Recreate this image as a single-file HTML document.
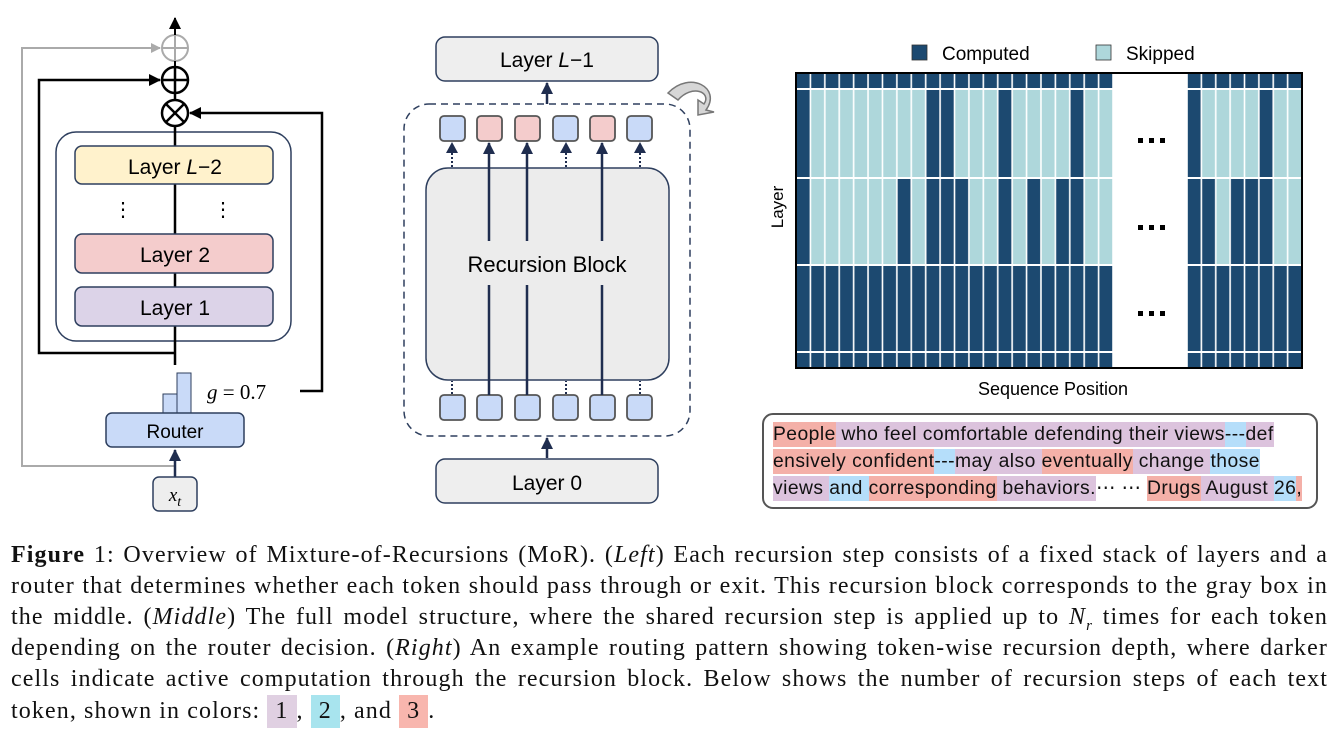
<!DOCTYPE html>
<html><head><meta charset="utf-8">
<style>
html,body{margin:0;padding:0;background:#fff;}
body{width:1338px;height:735px;position:relative;overflow:hidden;}
svg{position:absolute;left:0;top:0;}
.tb{position:absolute;left:773px;font-family:"Liberation Sans",sans-serif;font-size:19.3px;letter-spacing:0.45px;white-space:pre;color:#111;line-height:26px;}
.tb span{padding:2px 0;}
.p{background:#f4b0a8}.u{background:#dcc3dd}.b{background:#b5defa}
.cap{position:absolute;left:11px;width:1317px;font-family:"Liberation Serif",serif;font-size:24px;letter-spacing:1.1px;color:#111;white-space:nowrap;text-align:justify;text-align-last:justify;line-height:31px;}
.cap.l{text-align-last:left;}
.k{display:inline-block;padding:0 8px;line-height:33px;}
</style></head><body>
<svg width="1338" height="735" viewBox="0 0 1338 735" font-family="Liberation Sans, sans-serif">
<defs>
<marker id="ag" markerWidth="10" markerHeight="10" refX="9" refY="5" orient="auto" markerUnits="userSpaceOnUse"><path d="M0,0 L10,5 L0,10z" fill="#aaa"/></marker>
<marker id="an" markerWidth="12" markerHeight="12" refX="11" refY="6" orient="auto" markerUnits="userSpaceOnUse"><path d="M0,0 L12,6 L0,12z" fill="#1f2d4f"/></marker>
<marker id="ak" markerWidth="12" markerHeight="12" refX="11" refY="6" orient="auto" markerUnits="userSpaceOnUse"><path d="M0,0 L12,6 L0,12z" fill="#000"/></marker>
<pattern id="vl" patternUnits="userSpaceOnUse" x="796" y="0" width="14.41" height="10"><rect x="-0.8" y="0" width="1.6" height="10" fill="#fff"/><rect x="13.61" y="0" width="1.6" height="10" fill="#fff"/></pattern>
<pattern id="vr" patternUnits="userSpaceOnUse" x="1187" y="0" width="14.375" height="10"><rect x="-0.8" y="0" width="1.6" height="10" fill="#fff"/><rect x="13.575" y="0" width="1.6" height="10" fill="#fff"/></pattern>
</defs>

<!-- LEFT -->
<polyline points="175,466 22,466 22,48 160,48" fill="none" stroke="#aaa" stroke-width="2" marker-end="url(#ag)"/>
<circle cx="175" cy="48" r="13" fill="none" stroke="#aaa" stroke-width="2"/>
<line x1="162" y1="48" x2="188" y2="48" stroke="#aaa" stroke-width="2"/><line x1="175" y1="35" x2="175" y2="61" stroke="#aaa" stroke-width="2"/>
<line x1="175" y1="35" x2="175" y2="18" stroke="#000" stroke-width="2" marker-end="url(#ak)"/>
<line x1="175" y1="61" x2="175" y2="67" stroke="#000" stroke-width="2"/>
<polyline points="175,353 39,353 39,80 160,80" fill="none" stroke="#000" stroke-width="2.5" marker-end="url(#ak)"/>
<circle cx="175" cy="80" r="13" fill="#fff" stroke="#000" stroke-width="2.5"/>
<line x1="162" y1="80" x2="188" y2="80" stroke="#000" stroke-width="2.5"/><line x1="175" y1="67" x2="175" y2="93" stroke="#000" stroke-width="2.5"/>
<line x1="175" y1="93" x2="175" y2="100" stroke="#000" stroke-width="2.5"/>
<polyline points="300,391 322,391 322,113 190,113" fill="none" stroke="#000" stroke-width="2.5" marker-end="url(#ak)"/>
<circle cx="175" cy="113" r="13" fill="#fff" stroke="#000" stroke-width="2.5"/>
<line x1="166" y1="104" x2="184" y2="122" stroke="#000" stroke-width="2.5"/><line x1="184" y1="104" x2="166" y2="122" stroke="#000" stroke-width="2.5"/>
<rect x="56" y="132" width="235" height="209" rx="20" fill="#fff" stroke="#2e3f5e" stroke-width="1.5"/>
<line x1="175" y1="126" x2="175" y2="365" stroke="#000" stroke-width="2.5"/>
<rect x="75" y="146" width="198" height="38" rx="7" fill="#fff2cc" stroke="#2e3f5e" stroke-width="1.5"/>
<text x="175" y="174" font-size="21" text-anchor="middle">Layer <tspan font-style="italic">L</tspan>−2</text>
<text x="123" y="216" font-size="20" text-anchor="middle">⋮</text><text x="223" y="216" font-size="20" text-anchor="middle">⋮</text>
<rect x="75" y="234" width="198" height="39" rx="7" fill="#f4cccc" stroke="#2e3f5e" stroke-width="1.5"/>
<text x="175" y="262" font-size="21" text-anchor="middle">Layer 2</text>
<rect x="75" y="287" width="198" height="39" rx="7" fill="#dcd3e8" stroke="#2e3f5e" stroke-width="1.5"/>
<text x="175" y="315" font-size="21" text-anchor="middle">Layer 1</text>
<rect x="163" y="394" width="14" height="20" fill="#c9daf8" stroke="#2e3f5e" stroke-width="1"/>
<rect x="177" y="373" width="14" height="41" fill="#c9daf8" stroke="#2e3f5e" stroke-width="1"/>
<text x="207" y="399" font-size="21" font-family="Liberation Serif, serif"><tspan font-style="italic">g</tspan> = 0.7</text>
<rect x="106" y="413" width="138" height="34" rx="6" fill="#c9daf8" stroke="#2e3f5e" stroke-width="1.5"/>
<text x="175" y="438" font-size="19" text-anchor="middle">Router</text>
<line x1="175" y1="477" x2="175" y2="450" stroke="#1f2d4f" stroke-width="2.5" marker-end="url(#an)"/>
<rect x="153" y="477" width="44" height="34" rx="6" fill="#eee" stroke="#2e3f5e" stroke-width="1.5"/>
<text x="175" y="501" font-size="19" font-family="Liberation Serif, serif" font-style="italic" text-anchor="middle">x<tspan font-size="14" dy="5">t</tspan></text>

<!-- MIDDLE -->
<rect x="436" y="37" width="222" height="44" rx="9" fill="#eee" stroke="#2e3f5e" stroke-width="1.5"/>
<text x="547" y="67" font-size="21" text-anchor="middle">Layer <tspan font-style="italic">L</tspan>−1</text>
<line x1="547" y1="104" x2="547" y2="83" stroke="#1f2d4f" stroke-width="2.5" marker-end="url(#an)"/>
<rect x="404" y="104" width="286" height="332" rx="25" fill="none" stroke="#2e3f5e" stroke-width="1.5" stroke-dasharray="7,5"/>
<path d="M668,93 C690,70 722,88 706,110 L714,112 L698,115 L698,100 L704,104 C712,92 692,84 678,100 Z" fill="#d6d6d6" stroke="#777" stroke-width="1.5"/>
<rect x="426" y="168" width="243" height="212" rx="22" fill="#ececec" stroke="#2e3f5e" stroke-width="1.5"/>
<text x="547" y="272" font-size="22" text-anchor="middle">Recursion Block</text>
<g stroke="#555" stroke-width="1.8">
<rect x="440" y="116" width="25" height="25" rx="4" fill="#c9daf8"/>
<rect x="477" y="116" width="25" height="25" rx="4" fill="#f4cccc"/>
<rect x="515" y="116" width="25" height="25" rx="4" fill="#f4cccc"/>
<rect x="553" y="116" width="25" height="25" rx="4" fill="#c9daf8"/>
<rect x="590" y="116" width="25" height="25" rx="4" fill="#f4cccc"/>
<rect x="627" y="116" width="25" height="25" rx="4" fill="#c9daf8"/>
<rect x="440" y="395" width="25" height="25" rx="4" fill="#c9daf8"/>
<rect x="477" y="395" width="25" height="25" rx="4" fill="#c9daf8"/>
<rect x="515" y="395" width="25" height="25" rx="4" fill="#c9daf8"/>
<rect x="553" y="395" width="25" height="25" rx="4" fill="#c9daf8"/>
<rect x="590" y="395" width="25" height="25" rx="4" fill="#c9daf8"/>
<rect x="627" y="395" width="25" height="25" rx="4" fill="#c9daf8"/>
</g>
<g stroke="#1f2d4f" stroke-width="2.5">
<line x1="489" y1="241" x2="489" y2="143" marker-end="url(#an)"/><line x1="489" y1="395" x2="489" y2="285"/>
<line x1="527" y1="241" x2="527" y2="143" marker-end="url(#an)"/><line x1="527" y1="395" x2="527" y2="285"/>
<line x1="602" y1="241" x2="602" y2="143" marker-end="url(#an)"/><line x1="602" y1="395" x2="602" y2="285"/>
</g>
<g stroke="#1f2d4f" stroke-width="2" stroke-dasharray="2,2">
<line x1="452" y1="167" x2="452" y2="152"/><line x1="566" y1="167" x2="566" y2="152"/><line x1="640" y1="167" x2="640" y2="152"/>
<line x1="452" y1="394" x2="452" y2="381"/><line x1="566" y1="394" x2="566" y2="381"/><line x1="640" y1="394" x2="640" y2="381"/>
</g>
<g fill="#1f2d4f"><path d="M446,153 L458,153 L452,142z"/><path d="M560,153 L572,153 L566,142z"/><path d="M634,153 L646,153 L640,142z"/></g>
<line x1="547" y1="458" x2="547" y2="438" stroke="#1f2d4f" stroke-width="2.5" marker-end="url(#an)"/>
<rect x="436" y="459" width="222" height="44" rx="9" fill="#eee" stroke="#2e3f5e" stroke-width="1.5"/>
<text x="547" y="490" font-size="21" text-anchor="middle">Layer 0</text>

<!-- RIGHT -->
<rect x="912" y="45" width="15" height="15" fill="#1c4970" stroke="#333" stroke-width="0.8"/>
<text x="942" y="60" font-size="19">Computed</text>
<rect x="1096" y="45" width="15" height="15" fill="#aed7db" stroke="#333" stroke-width="0.8"/>
<text x="1126" y="60" font-size="19">Skipped</text>
<text transform="translate(783,207) rotate(-90)" font-size="17" text-anchor="middle">Layer</text>
<text x="1053" y="395" font-size="18" text-anchor="middle">Sequence Position</text>
<rect x="796" y="73" width="317" height="295" fill="#1c4970"/>
<rect x="1187" y="73" width="115" height="295" fill="#1c4970"/>
<g fill="#aed7db">
<rect x="810.4" y="89" width="115.3" height="89"/><rect x="954.5" y="89" width="43.2" height="89"/><rect x="1012.2" y="89" width="57.6" height="89"/><rect x="1084.2" y="89" width="28.8" height="89"/>
<rect x="810.4" y="178" width="86.5" height="87"/><rect x="911.3" y="178" width="14.4" height="87"/><rect x="968.9" y="178" width="28.8" height="87"/><rect x="1012.2" y="178" width="14.4" height="87"/><rect x="1041" y="178" width="14.4" height="87"/><rect x="1084.2" y="178" width="28.8" height="87"/>
<rect x="1201.4" y="89" width="57.5" height="89"/><rect x="1273.25" y="89" width="28.75" height="89"/>
<rect x="1215.75" y="178" width="14.35" height="87"/><rect x="1273.25" y="178" width="28.75" height="87"/>
</g>
<rect x="796" y="73" width="317" height="295" fill="url(#vl)"/>
<rect x="1187" y="73" width="115" height="295" fill="url(#vr)"/>
<g fill="#fff"><rect x="796" y="88" width="506" height="2"/><rect x="796" y="177" width="506" height="2"/><rect x="796" y="264" width="506" height="2"/><rect x="796" y="351" width="506" height="2"/></g>
<rect x="1113" y="73" width="74" height="295" fill="#fff"/>
<rect x="796" y="73" width="506" height="295" fill="none" stroke="#000" stroke-width="2"/>
<g fill="#000"><rect x="1138" y="138" width="5" height="5"/><rect x="1149" y="138" width="5" height="5"/><rect x="1160" y="138" width="5" height="5"/>
<rect x="1138" y="225" width="5" height="5"/><rect x="1149" y="225" width="5" height="5"/><rect x="1160" y="225" width="5" height="5"/>
<rect x="1138" y="311" width="5" height="5"/><rect x="1149" y="311" width="5" height="5"/><rect x="1160" y="311" width="5" height="5"/></g>
<rect x="763" y="414" width="554" height="94" rx="10" fill="none" stroke="#555" stroke-width="2"/>
</svg>

<div class="tb" style="top:422px"><span class="p">People</span><span class="u"> who feel comfortable defending their views</span><span class="b">---</span><span class="u">def</span></div>
<div class="tb" style="top:449px"><span class="p">ensively confident</span><span class="b">---</span><span class="u">may also </span><span class="p">eventually</span><span class="u"> change </span><span class="b">those</span></div>
<div class="tb" style="top:476px"><span class="u">views </span><span class="b">and </span><span class="p">corresponding</span><span class="u"> behaviors.</span>⋯ ⋯ <span class="p">Drugs</span><span class="u"> August </span><span class="b">26</span><span class="p">,</span></div>

<div class="cap" style="top:540px"><b>Figure</b> 1: Overview of Mixture-of-Recursions (MoR). (<i>Left</i>) Each recursion step consists of a fixed stack of layers and a</div>
<div class="cap" style="top:571px">router that determines whether each token should pass through or exit. This recursion block corresponds to the gray box in</div>
<div class="cap" style="top:602px">the middle. (<i>Middle</i>) The full model structure, where the shared recursion step is applied up to <i>N<sub style="font-size:15px">r</sub></i> times for each token</div>
<div class="cap" style="top:633px">depending on the router decision. (<i>Right</i>) An example routing pattern showing token-wise recursion depth, where darker</div>
<div class="cap" style="top:664px">cells indicate active computation through the recursion block. Below shows the number of recursion steps of each text</div>
<div class="cap l" style="top:695px">token, shown in colors: <span class="k" style="background:#e0d0e2">1</span>, <span class="k" style="background:#a8e4ee">2</span>, and <span class="k" style="background:#f8b6ae">3</span>.</div>
</body></html>
